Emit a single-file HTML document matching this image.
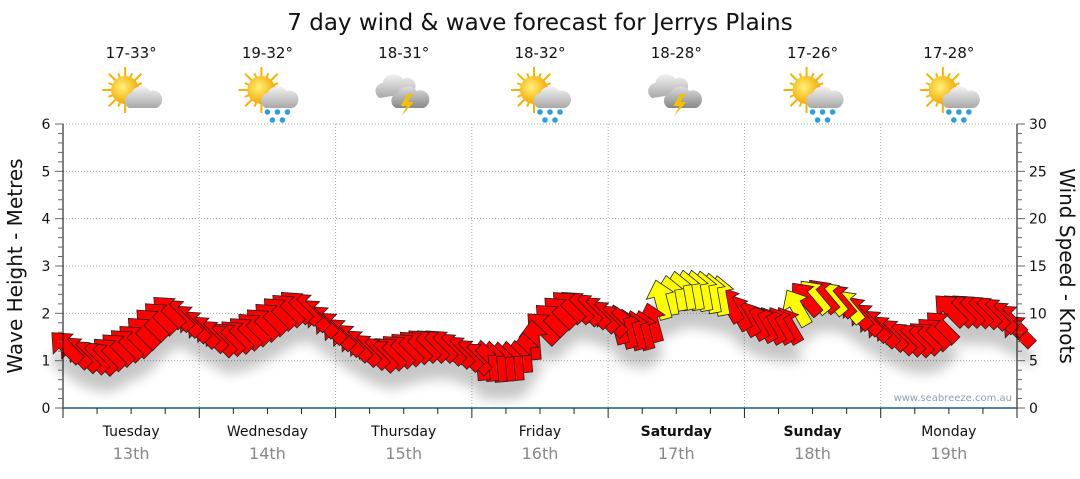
<!DOCTYPE html>
<html><head><meta charset="utf-8"><style>
body{margin:0;background:#fff;width:1080px;height:475px;overflow:hidden;font-family:"DejaVu Sans","Liberation Sans",sans-serif}
</style></head><body>
<svg id="s" width="1080" height="475" xmlns="http://www.w3.org/2000/svg" font-family="DejaVu Sans, Liberation Sans, sans-serif">
<defs>
<filter id="sh" x="-50%" y="-50%" width="200%" height="200%"><feGaussianBlur stdDeviation="6"/></filter>
<radialGradient id="sun" cx="0.4" cy="0.4" r="0.6"><stop offset="0" stop-color="#fff27a"/><stop offset="1" stop-color="#f5a800"/></radialGradient>
<linearGradient id="cl" x1="0" y1="0" x2="0" y2="1"><stop offset="0" stop-color="#f2f2f2"/><stop offset="1" stop-color="#a8a8a8"/></linearGradient>
<linearGradient id="dc" x1="0" y1="0" x2="0" y2="1"><stop offset="0" stop-color="#ddd"/><stop offset="1" stop-color="#888"/></linearGradient>
</defs>
<text x="540" y="30" font-size="23" text-anchor="middle" fill="#111">7 day wind &amp; wave forecast for Jerrys Plains</text>
<g id="grid"></g>
<g id="shadow" filter="url(#sh)" opacity="0.22"></g>
<g id="arrows" stroke="#222" stroke-width="0.8" stroke-linejoin="miter"></g>
<g id="axes"></g>
<text x="1012" y="401" font-size="10" text-anchor="end" fill="#8aa0b8">www.seabreeze.com.au</text>
<text transform="translate(22,266) rotate(-90)" font-size="20" text-anchor="middle" fill="#111">Wave Height - Metres</text>
<text transform="translate(1060,266) rotate(90)" font-size="20" text-anchor="middle" fill="#111">Wind Speed - Knots</text>
<g id="icons"></g>
</svg>
<script>
const NS="http://www.w3.org/2000/svg";
function el(p,t,a,txt){const e=document.createElementNS(NS,t);for(const k in a)e.setAttribute(k,a[k]);if(txt!==undefined)e.textContent=txt;document.getElementById(p).appendChild(e);return e;}
const x0=63,x1=1017,y0=408,yt=124,dw=(x1-x0)/7,mh=(y0-yt)/6;
for(let i=1;i<=6;i++){el('grid','line',{x1:x0,x2:x1,y1:y0-i*mh,y2:y0-i*mh,stroke:'#aaa','stroke-dasharray':'1,2'});}
for(let d=1;d<7;d++){el('grid','line',{x1:x0+d*dw,x2:x0+d*dw,y1:yt,y2:y0,stroke:'#aaa','stroke-dasharray':'1,2'});}
el('axes','line',{x1:x0,x2:x0,y1:yt,y2:y0,stroke:'#000'});
el('axes','line',{x1:x1,x2:x1,y1:yt,y2:y0,stroke:'#000'});
el('axes','line',{x1:x0,x2:x1,y1:y0,y2:y0,stroke:'#1f5a8a','stroke-width':1.5});
for(let i=0;i<=30;i++){const y=y0-i*(y0-yt)/30;const maj=i%5==0;el('axes','line',{x1:x1,x2:x1+(maj?8:5),y1:y,y2:y,stroke:'#666'});if(maj)el('axes','text',{x:x1+12,y:y+5,'font-size':14,fill:'#111'},i);}
for(let i=0;i<=30;i++){const y=y0-i*mh/5;const maj=i%5==0;el('axes','line',{x1:x0,x2:x0-(maj?8:5),y1:y,y2:y,stroke:'#666'});}
for(let i=0;i<=6;i++)el('axes','text',{x:46,y:y0-i*mh+5,'font-size':14,'text-anchor':'middle',fill:'#111'},i);
for(let i=0;i<=28;i++){const x=x0+i*dw/4;el('axes','line',{x1:x,x2:x,y1:y0,y2:y0+(i%4==0?10:6),stroke:'#222'});}
const days=["Tuesday","Wednesday","Thursday","Friday","Saturday","Sunday","Monday"],dates=["13th","14th","15th","16th","17th","18th","19th"];
const temps=["17-33°","19-32°","18-31°","18-32°","18-28°","17-26°","17-28°"];
days.forEach((d,i)=>{const cx=x0+dw*(i+0.5);el('axes','text',{x:cx,y:436,'font-size':14,'text-anchor':'middle',fill:'#111','font-weight':(i==4||i==5)?'bold':'normal'},d);
el('axes','text',{x:cx,y:459,'font-size':16,'text-anchor':'middle',fill:'#888'},dates[i]);
el('icons','text',{x:cx,y:58,'font-size':15,'text-anchor':'middle',fill:'#111'},temps[i]);});
const types=["sun","sunrain","storm","sunrain","storm","sunrain","sunrain"];
types.forEach((t,i)=>{const cx=x0+dw*(i+0.5)+2,cy=92;
 if(t!="storm"){for(let k=0;k<16;k++){const a=k*Math.PI/8;el('icons','line',{x1:cx-8+Math.cos(a)*12,y1:cy-2+Math.sin(a)*12,x2:cx-8+Math.cos(a)*(k%2?18:23),y2:cy-2+Math.sin(a)*(k%2?18:23),stroke:'#f6b400','stroke-width':2});}
 el('icons','circle',{cx:cx-8,cy:cy-2,r:14,fill:'url(#sun)'});
 el('icons','path',{d:`M${cx-4} ${cy+16} a8 8 0 0 1 2-15 a11 11 0 0 1 19-2 a8 8 0 0 1 6 17 z`,fill:'url(#cl)'});}
 else{el('icons','path',{d:`M${cx-26} ${cy+6} a8 8 0 0 1 3-15 a11 11 0 0 1 20-4 a8 8 0 0 1 9 14 z`,fill:'url(#cl)'});
 el('icons','path',{d:`M${cx-10} ${cy+16} a8 8 0 0 1 2-15 a11 11 0 0 1 19-2 a8 8 0 0 1 7 17 z`,fill:'url(#dc)'});
 el('icons','path',{d:`M${cx+2} ${cy+2} l-7 12 h6 l-5 10 l12-14 h-6 l5-8 z`,fill:'#f6c000'});}
 if(t=="sunrain"){[[-2,20],[8,20],[18,20],[3,28],[13,28]].forEach(p=>el('icons','circle',{cx:cx+p[0],cy:cy+p[1],r:2.8,fill:'#2aa0e0'}));}
});
const kp=[[63,345],[80,355],[100,358],[115,350],[135,340],[150,325],[170,310],[185,320],[200,330],[220,340],[240,335],[260,325],[280,312],[300,305],[320,320],[340,335],[360,348],[380,355],[400,350],[420,345],[440,345],[460,352],[480,360],[500,362],[520,360],[540,330],[555,315],[570,305],[590,310],[610,320],[630,330],[650,330],[660,300],[680,290],[700,290],[720,295],[735,310],[750,320],[770,325],[790,325],[800,300],[820,295],[840,300],[860,315],[880,330],[900,338],[920,340],[940,330],[950,310],[970,310],[990,312],[1010,320],[1025,340]];
function yAt(x){for(let i=0;i<kp.length-1;i++){if(x>=kp[i][0]&&x<=kp[i+1][0]){const t=(x-kp[i][0])/(kp[i+1][0]-kp[i][0]);return kp[i][1]+t*(kp[i+1][1]-kp[i][1]);}}return kp[kp.length-1][1];}
const A="M0 -20 L14 -4 L6 -4 L6 20 L-6 20 L-6 -4 L-14 -4 Z";
const xs=[];for(let x=66;x<=1020;x+=8.5)xs.push(x);
xs.reverse().forEach(x=>{const y=yAt(x);let ang=-45;
 if(x>480&&x<535)ang=-5; else if(x>615&&x<665)ang=-15; else if(x>665&&x<728)ang=-10; else if(x>728&&x<800)ang=-30; else if(x>=800&&x<860)ang=-40;
 const yel=(x>660&&x<728)||(x>795&&x<858&&x%17>8);
 el('shadow','path',{d:A,transform:`translate(${x},${y+18}) rotate(${ang})`,fill:'#000'});
 el('arrows','path',{d:A,transform:`translate(${x},${y}) rotate(${ang})`,fill:yel?'#ffff00':'#ff0000'});});
</script>
</body></html>
